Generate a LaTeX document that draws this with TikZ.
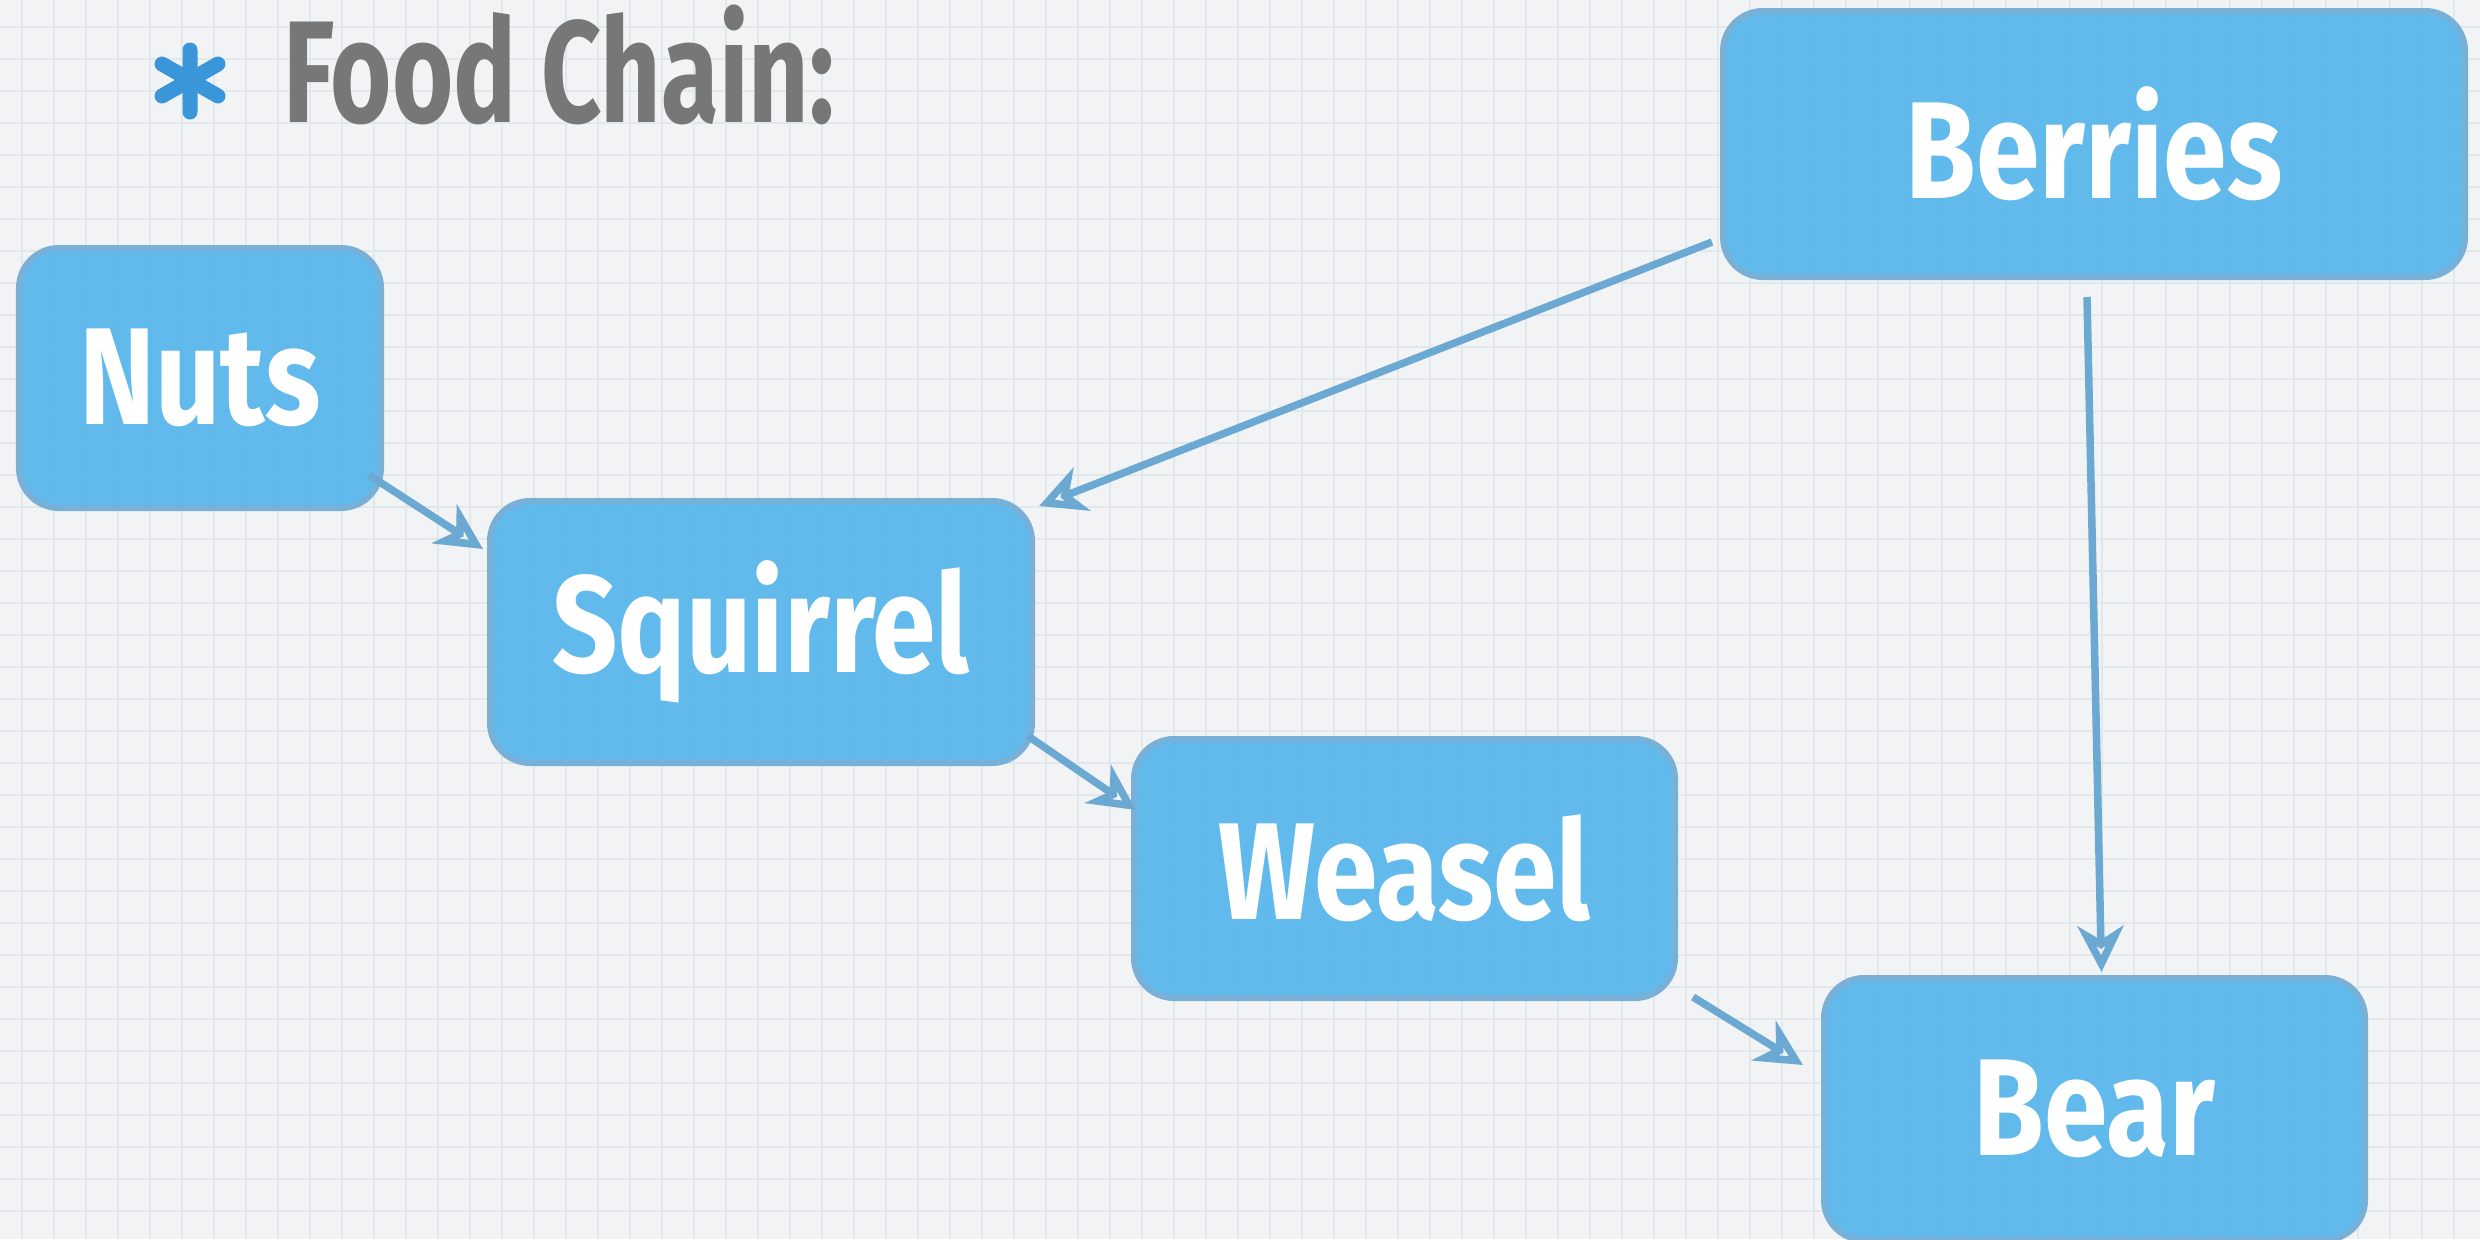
\documentclass[tikz,border=0pt]{standalone}
\usepackage{fontspec}
\setmainfont{Fira Sans}
\newfontfamily\boxfont[FakeStretch=0.83]{Fira Sans}
\newfontfamily\titlefont[FakeStretch=0.725]{Fira Sans}
\usetikzlibrary{arrows.meta,calc}
\definecolor{bgc}{HTML}{F2F3F5}
\definecolor{gridc}{HTML}{E0E8EC}
\definecolor{boxfill}{HTML}{5AB7EB}
\definecolor{boxline}{HTML}{78B0D8}
\definecolor{arrowc}{HTML}{6BA9D3}
\definecolor{titlec}{HTML}{777777}
\definecolor{starc}{HTML}{3A96D8}
\tikzset{
  animal/.style={rectangle, rounded corners=40bp, fill=boxfill, fill opacity=0.95, text opacity=1,
    draw=boxline, line width=6bp, inner sep=0pt, text=white,
    font=\boxfont\bfseries\fontsize{138bp}{150bp}\selectfont},
  link/.style={draw=arrowc, line width=7.5bp,
    -{Stealth[open, length=46bp, width=46bp, inset=14bp]}},
  gridline/.style={draw=gridc, line width=2.5bp},
}
\begin{document}
\begin{tikzpicture}[x=1bp, y=-1bp]
  \useasboundingbox (0,0) rectangle (2480,1239);
  \fill[bgc] (0,0) rectangle (2480,1239);
  \foreach \gx in {0,...,77} {\draw[gridline] ({22+32*\gx},0) -- ({22+32*\gx},1239);}
  \foreach \gy in {0,...,38} {\draw[gridline] (0,{27+32*\gy}) -- (2480,{27+32*\gy});}

  % title bullet
  \draw[starc, line width=15bp, line cap=round]
    (190,50) -- (190,112)
    (162,64) -- (218,96)
    (162,96) -- (218,64);
  \node[anchor=base west, inner sep=0pt, text=titlec,
        font=\titlefont\bfseries\fontsize{145bp}{160bp}\selectfont] (title) at (283,122) {Food Chain:};

  \node[animal, minimum width=362bp, minimum height=260bp] (nuts) at (200,378) {Nuts};
  \node[animal, minimum width=542bp, minimum height=262bp] (squirrel) at (761,632) {Squirrel};
  \node[animal, minimum width=541bp, minimum height=259bp] (weasel) at (1404.5,868.5) {Weasel};
  \node[animal, minimum width=742bp, minimum height=266bp] (berries) at (2094,144) {Berries};
  \node[animal, minimum width=541bp, minimum height=262bp] (bear) at (2094.5,1109) {Bear};

  \draw[link] ($(nuts.south east)+(-15,-36)$) -- ($(squirrel.north west)+(-4,51)$);
  \draw[link] ($(berries.south west)+(-8,-38)$) -- ($(squirrel.north east)+(4,8)$);
  \draw[link] ($(squirrel.south east)+(-7,-30)$) -- ($(weasel.north west)+(5,74)$);
  \draw[link] ($(weasel.south east)+(15,-4)$) -- ($(bear.north west)+(-18,90)$);
  \draw[link] ($(berries.south)+(-7,17)$) -- ($(bear.north)+(7,-3)$);
\end{tikzpicture}
\end{document}
